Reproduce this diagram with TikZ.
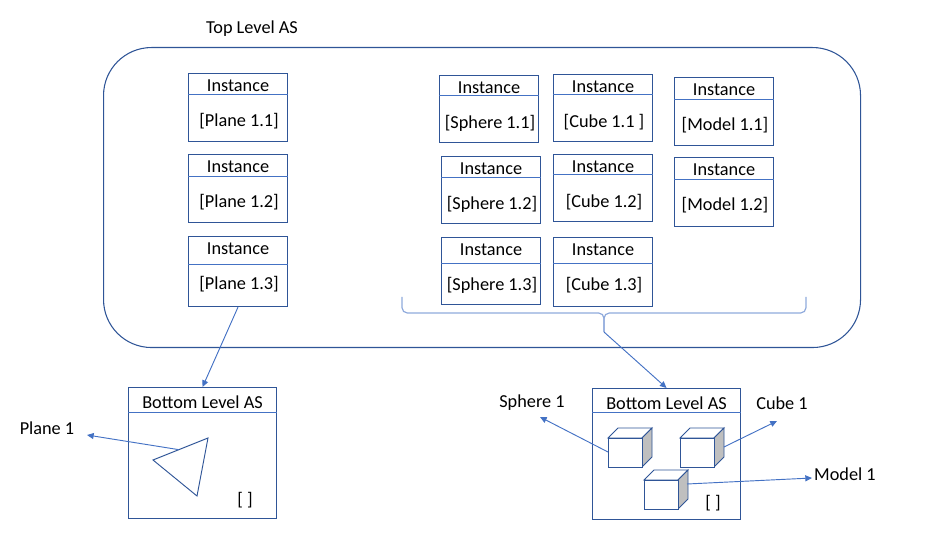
\documentclass[tikz,border=0pt]{standalone}
\usepackage{fontspec}
\setmainfont{Carlito}
\usepackage{tikz}
\usetikzlibrary{calc,arrows.meta}
\definecolor{frame}{HTML}{2F5597}
\definecolor{wire}{HTML}{4472C4}
\definecolor{soft}{HTML}{8FAADC}
\definecolor{side}{HTML}{BFBFBF}
\tikzset{
  outer/.style={draw=frame, line width=0.8pt, rounded corners=36pt, inner sep=0pt,
    minimum width=567.75pt, minimum height=225pt},
  inst/.style={draw=frame, line width=0.8pt, inner sep=0pt, minimum width=74.25pt},
  blas/.style={draw=frame, line width=0.8pt, inner sep=0pt, minimum width=111pt,
    minimum height=98.25pt},
  div/.style={draw=wire, line width=0.7pt},
  arr/.style={draw=wire, line width=0.7pt, -{Triangle[length=5pt,width=4.5pt]}},
  brc/.style={draw=soft, line width=0.9pt, rounded corners=4pt},
  cubefront/.style={draw=frame, line width=0.7pt, fill=white},
  cubeside/.style={draw=frame, line width=0.7pt, fill=side},
  tri/.style={draw=frame, line width=0.7pt},
  lab/.style={font=\fontsize{13.7}{16}\selectfont, inner sep=0pt},
}

\begin{document}
\begin{tikzpicture}[x=0.75pt, y=-0.75pt]
  \useasboundingbox (0,0) rectangle (936,538);

  % top level structure
  \node[lab] (title) at (252,29) {Top Level AS};
  \node[outer, anchor=north west] (tlas) at (103,47) {};

  % instance boxes: name/x/y/height/divider/label
  \foreach \n/\x/\y/\h/\d/\lab in {
      pA/188/73/68/21/{[Plane 1.1]}, pB/188/154/68/22/{[Plane 1.2]},
      pC/188/236/70/28/{[Plane 1.3]},
      sA/439/75/67/20/{[Sphere 1.1]}, sB/441/156/67/21/{[Sphere 1.2]},
      sC/441/237/67/26/{[Sphere 1.3]},
      cA/553/74/67/20/{[Cube 1.1 ]}, cB/553/154/67/20/{[Cube 1.2]},
      cC/553/237/69/26/{[Cube 1.3]},
      mA/674/77/68/22/{[Model 1.1]}, mB/674/157/69/22/{[Model 1.2]}} {
    \node[inst, minimum height=0.75pt*\h, anchor=north west] (\n) at (\x,\y) {};
    \draw[div] ($(\n.north west)+(0,\d)$) -- ($(\n.north east)+(0,\d)$);
    \node[lab] (\n-t) at ($(\n.north)+(0,13)$) {Instance};
    \node[lab] (\n-l) at ($(\n.north)+(1,48)$) {\lab};
  }

  % brace under sphere and cube instances
  \coordinate (brtip) at (604,332);
  \draw[brc] (402,297) -- (402,313) -- (604,313) -- (brtip);
  \draw[brc] (806,297) -- (806,313) -- (604,313) -- (brtip);

  % bottom level: plane
  \node[blas, anchor=north west] (blL) at (128,387) {};
  \draw[div] ($(blL.north west)+(0,25)$) -- ($(blL.north east)+(0,25)$);
  \node[lab] at ($(blL.north)+(0,15)$) {Bottom Level AS};
  \coordinate (t1) at (153,460);
  \coordinate (t2) at (208,438);
  \coordinate (t3) at (197,496);
  \draw[tri] (t1) -- (t2) -- (t3) -- cycle;
  \node[lab] (brL) at (245,500) {[ ]};
  \node[lab] (plane) at (47,428) {Plane 1};
  \coordinate (planeTip) at (87,435);

  % bottom level: sphere, cube, model
  \node[blas, anchor=north west] (blR) at (592,388) {};
  \draw[div] ($(blR.north west)+(0,24)$) -- ($(blR.north east)+(0,24)$);
  \node[lab] at ($(blR.north)+(0,15)$) {Bottom Level AS};
  \foreach \i/\x/\y in {1/608/438, 2/680/438, 3/644/480} {
    \coordinate (cu\i) at (\x,\y);
    \draw[cubefront] (\x,\y) -- (\x+10,\y-10) -- (\x+44,\y-10) -- (\x+34,\y) -- cycle;
    \draw[cubeside] (\x+34,\y) -- (\x+44,\y-10) -- (\x+44,\y+19) -- (\x+34,\y+29) -- cycle;
    \draw[cubefront] (\x,\y) rectangle (\x+34,\y+29);
  }
  \node[lab] (brR) at (713,503) {[ ]};
  \node[lab] (sph) at (532,403) {Sphere 1};
  \node[lab] (cub) at (782,403) {Cube 1};
  \node[lab] (mod) at (845,474) {Model 1};
  \coordinate (sphTip) at (540,417);
  \coordinate (cubTip) at (777,421);
  \coordinate (modTip) at (812,478);

  % connectors
  \draw[arr] (pC.south) -- (blL.north);
  \draw[arr] (brtip) -- (blR.north);
  \draw[arr] ($(t1)!0.47!(t2)$) -- (planeTip);
  \draw[arr] ($(cu1)+(0,14)$) -- (sphTip);
  \draw[arr] ($(cu2)+(44,9)$) -- (cubTip);
  \draw[arr] ($(cu3)+(43,4)$) -- (modTip);
\end{tikzpicture}
\end{document}
